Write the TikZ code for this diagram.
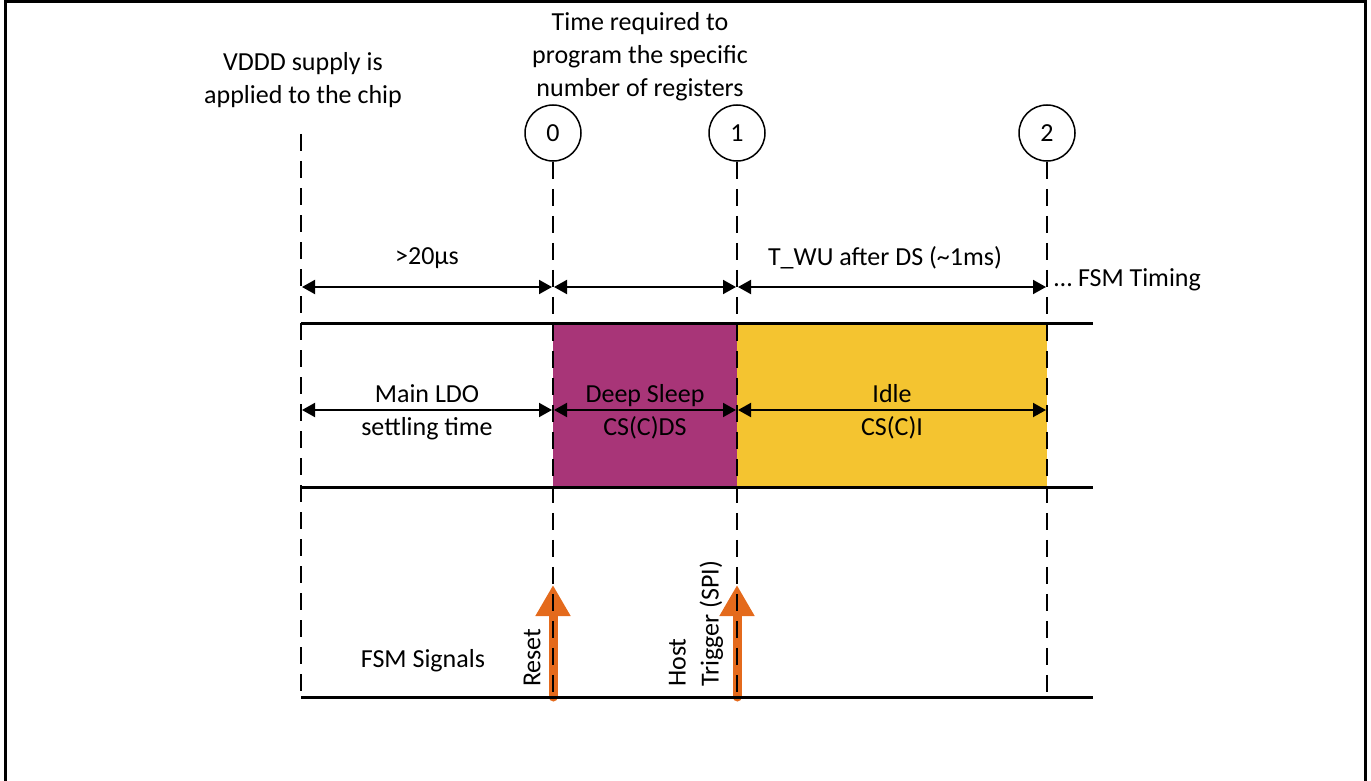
\documentclass[tikz,border=0pt]{standalone}
\usepackage{fontspec}
\setmainfont{Carlito}
\usetikzlibrary{arrows.meta}
\definecolor{dsPurple}{RGB}{168,53,120}
\definecolor{idleYellow}{RGB}{244,196,48}
\definecolor{sigOrange}{RGB}{228,106,28}
\tikzset{
  txt/.style={font=\fontsize{26}{33}\selectfont, inner sep=0pt, align=center},
  vline/.style={line width=2pt, dash pattern=on 17pt off 10pt},
  hline/.style={line width=3pt},
  dim/.style={line width=2pt, {Triangle[length=13pt,width=14pt]}-{Triangle[length=13pt,width=14pt]}, shorten <=1pt, shorten >=1pt},
  state/.style={circle, draw, line width=1.5pt, minimum size=56pt, inner sep=0pt, font=\fontsize{26}{30}\selectfont},
  sig/.style={line width=9pt, sigOrange, line cap=round, -{Triangle[length=31pt,width=33pt]}},
}
\begin{document}
\begin{tikzpicture}[x=1pt,y=-1pt]
\useasboundingbox (0,0) rectangle (1371,781);
% frame
\draw[line width=3pt] (5,790) -- (5,2) -- (1365,2) -- (1365,790);

% coordinates
\coordinate (v0t) at (301,134);
\coordinate (v0b) at (301,697);
\node[state] (c0) at (553,133) {0};
\node[state] (c1) at (737,133) {1};
\node[state] (c2) at (1047,133) {2};
\coordinate (a0) at (553,697);
\coordinate (a1) at (737,697);
\coordinate (a2) at (1047,697);

% state fills
\fill[dsPurple] (553,323) rectangle (737,487);
\fill[idleYellow] (737,323) rectangle (1047,487);

% orange signal arrows
\coordinate (r0) at (553,585);
\coordinate (r1) at (737,585);
\draw[sig] (a0) -- (r0);
\draw[sig] (a1) -- (r1);

% dashed verticals
\draw[vline] (v0t) -- (v0b);
\draw[vline] (c0.south) -- (a0);
\draw[vline] (c1.south) -- (a1);
\draw[vline] (c2.south) -- (a2);

% horizontal lines
\coordinate (h1l) at (301,323); \coordinate (h1r) at (1093,323);
\coordinate (h2l) at (301,487); \coordinate (h2r) at (1093,487);
\coordinate (h3l) at (301,697); \coordinate (h3r) at (1093,697);
\draw[hline] (h1l) -- (h1r);
\draw[hline] (h2l) -- (h2r);
\draw[hline] (h3l) -- (h3r);

% timing dimension arrows
\coordinate (t0) at (301,287); \coordinate (t1) at (553,287);
\coordinate (t2) at (737,287); \coordinate (t3) at (1047,287);
\draw[dim] (t0) -- (t1);
\draw[dim] (t1) -- (t2);
\draw[dim] (t2) -- (t3);

\coordinate (s0) at (301,410); \coordinate (s1) at (553,410);
\coordinate (s2) at (737,410); \coordinate (s3) at (1047,410);
\draw[dim] (s0) -- (s1);
\draw[dim] (s1) -- (s2);
\draw[dim] (s2) -- (s3);

% texts
\node[txt] (vddd) at (303,80) {VDDD supply is\\applied to the chip};
\node[txt] (treq) at (640,57) {Time required to\\program the specific\\number of registers};
\node[txt] (l20) at (427,258) {>20µs};
\node[txt] (ltwu) at (885,258) {T\_WU after DS (\textasciitilde 1ms)};
\node[txt, anchor=west] (lfsmt) at (1054,280) {… FSM Timing};
\node[txt] (lldo) at (427,412) {Main LDO\\settling time};
\node[txt] (lds) at (645,412) {Deep Sleep\\CS(C)DS};
\node[txt] (lidle) at (892,412) {Idle\\CS(C)I};
\node[txt] (lfsms) at (423,661) {FSM Signals};
\node[txt, rotate=90, anchor=west] (lreset) at (532,687) {Reset};
\node[txt, rotate=90, anchor=west, align=left] (lhost) at (696,687) {Host\\Trigger (SPI)};
\end{tikzpicture}
\end{document}
